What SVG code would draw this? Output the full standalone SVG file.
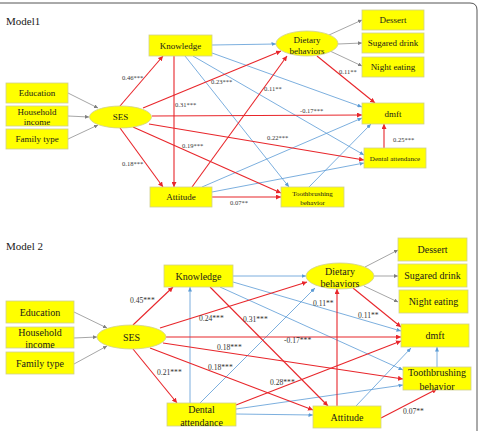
<svg xmlns="http://www.w3.org/2000/svg" width="482" height="431" viewBox="0 0 482 431">
<style>
.box{fill:#ffff00;stroke:#cfcf90;stroke-width:0.8}
.t{font-family:"Liberation Serif","Times New Roman",serif;fill:#1a1a1a;text-anchor:middle}
.s1{font-size:9px}.s2{font-size:10px}.s7{font-size:7px}
.lb{font-family:"Liberation Serif","Times New Roman",serif;fill:#333}
.l1{font-size:6.5px}.l2{font-size:7.6px}
.title{font-family:"Liberation Serif","Times New Roman",serif;fill:#1a1a1a;font-size:11px}
.r{stroke:#e8262b;stroke-width:1.1;fill:none;marker-end:url(#ar)}
.b{stroke:#5b9bd5;stroke-width:0.8;fill:none;marker-end:url(#ab)}
.g{stroke:#7f7f7f;stroke-width:0.7;fill:none;marker-end:url(#ag)}
</style>
<defs>
<marker id="ar" markerUnits="userSpaceOnUse" markerWidth="6" markerHeight="5" refX="5" refY="2.5" orient="auto"><path d="M0,0 L5,2.5 L0,5 Z" fill="#e8262b"/></marker>
<marker id="ab" markerUnits="userSpaceOnUse" markerWidth="5" markerHeight="4" refX="4.5" refY="2" orient="auto"><path d="M0,0 L4.5,2 L0,4 Z" fill="#5b9bd5"/></marker>
<marker id="ag" markerUnits="userSpaceOnUse" markerWidth="5" markerHeight="4" refX="4" refY="2" orient="auto"><path d="M0,0 L4,2 L0,4 Z" fill="#7f7f7f"/></marker>
</defs>
<rect width="482" height="431" fill="#ffffff"/>
<path d="M0,3 H470 Q477,3 477,10 V431" fill="none" stroke="#555" stroke-width="1"/>
<text class="title" x="6" y="25">Model1</text>
<text class="title" x="6" y="250">Model 2</text>

<g id="connectors">
<!-- Model 1 blue -->
<path class="b" d="M212,45 L276,44"/>
<path class="b" d="M212,53 L362,107"/>
<path class="b" d="M193,56 L364,155"/>
<path class="b" d="M185,56 L289,187"/>
<path class="b" d="M202,187 L362,118"/>
<path class="b" d="M212,192 L364,163"/>
<path class="b" d="M309,187 L371,124"/>
<!-- Model 1 red -->
<path class="r" d="M120,106 L163,56"/>
<path class="r" d="M143,108 L281,51"/>
<path class="r" d="M174,56 L174,187"/>
<path class="r" d="M152,116 L362,115"/>
<path class="r" d="M149,124 L364,160"/>
<path class="r" d="M133,127 L281,193"/>
<path class="r" d="M120,128 L163,187"/>
<path class="r" d="M192,187 L287,56"/>
<path class="r" d="M212,197 L281,197"/>
<path class="r" d="M317,56 L375,103"/>
<path class="r" d="M384,148 L384,124"/>
<!-- Model 1 gray -->
<path class="g" d="M68,93 L98,108"/>
<path class="g" d="M68,116 L89,117"/>
<path class="g" d="M68,139 L98,125"/>
<path class="g" d="M329,35 L362,20"/>
<path class="g" d="M338,44 L362,43"/>
<path class="g" d="M330,51 L362,66"/>
<!-- Model 2 blue -->
<path class="b" d="M190,403 L190,287"/>
<path class="b" d="M200,403 L315,288"/>
<path class="b" d="M236,414 L313,415"/>
<path class="b" d="M236,409 L403,385"/>
<path class="b" d="M233,276 L306,276"/>
<path class="b" d="M233,282 L401,331"/>
<path class="b" d="M220,287 L403,370"/>
<path class="b" d="M356,406 L411,348"/>
<path class="b" d="M437,367 L437,347"/>
<!-- Model 2 red -->
<path class="r" d="M133,325 L173,287"/>
<path class="r" d="M160,328 L307,282"/>
<path class="r" d="M166,337 L401,337"/>
<path class="r" d="M163,343 L403,379"/>
<path class="r" d="M150,348 L313,410"/>
<path class="r" d="M133,349 L177,403"/>
<path class="r" d="M210,287 L328,406"/>
<path class="r" d="M236,405 L401,341"/>
<path class="r" d="M337,406 L337,289"/>
<path class="r" d="M353,288 L401,327"/>
<path class="r" d="M381,418 L437,389"/>
<!-- Model 2 gray -->
<path class="g" d="M74,312 L107,328"/>
<path class="g" d="M74,338 L97,337"/>
<path class="g" d="M74,364 L107,346"/>
<path class="g" d="M365,267 L398,250"/>
<path class="g" d="M374,276 L398,276"/>
<path class="g" d="M364,286 L398,302"/>
</g>

<g id="labels">
<text class="lb l1" x="122" y="80">0.46***</text>
<text class="lb l1" x="211" y="84">0.23***</text>
<text class="lb l1" x="175" y="107">0.31***</text>
<text class="lb l1" x="182" y="148">0.19***</text>
<text class="lb l1" x="122" y="166">0.18***</text>
<text class="lb l1" x="230" y="205">0.07**</text>
<text class="lb l1" x="264" y="91">0.11**</text>
<text class="lb l1" x="339" y="74">0.11**</text>
<text class="lb l1" x="300" y="113">-0.17***</text>
<text class="lb l1" x="267" y="140">0.22***</text>
<text class="lb l1" x="393" y="142">0.25***</text>
<text class="lb l2" x="130" y="303">0.45***</text>
<text class="lb l2" x="199" y="321">0.24***</text>
<text class="lb l2" x="217" y="350">0.18***</text>
<text class="lb l2" x="208" y="370">0.18***</text>
<text class="lb l2" x="157" y="375">0.21***</text>
<text class="lb l2" x="243" y="322">0.31***</text>
<text class="lb l2" x="270" y="385">0.28***</text>
<text class="lb l2" x="284" y="343">-0.17***</text>
<text class="lb l2" x="313" y="306">0.11**</text>
<text class="lb l2" x="358" y="318">0.11**</text>
<text class="lb l2" x="403" y="414">0.07**</text>
</g>

<!-- Model 1 nodes -->
<g id="m1-education"><rect class="box" x="6" y="83" width="62" height="20"/><text class="t s1" x="37" y="96">Education</text></g>
<g id="m1-household"><rect class="box" x="6" y="106" width="62" height="20"/><text class="t s1" x="37" y="115">Household</text><text class="t s1" x="37" y="125">income</text></g>
<g id="m1-family"><rect class="box" x="6" y="129" width="62" height="20"/><text class="t s1" x="37" y="142">Family type</text></g>
<g id="m1-ses"><ellipse class="box" cx="120.5" cy="117" rx="31" ry="11"/><text class="t s1" x="120.5" y="120">SES</text></g>
<g id="m1-knowledge"><rect class="box" x="149" y="35" width="63" height="21"/><text class="t s1" x="180.5" y="48.5">Knowledge</text></g>
<g id="m1-attitude"><rect class="box" x="150" y="187" width="62" height="20"/><text class="t s1" x="181" y="200">Attitude</text></g>
<g id="m1-dietary"><ellipse class="box" cx="307" cy="43.5" rx="31" ry="12.5"/><text class="t s1" x="307" y="43">Dietary</text><text class="t s1" x="307" y="54">behaviors</text></g>
<g id="m1-dessert"><rect class="box" x="362" y="10" width="62" height="20"/><text class="t s1" x="393" y="23">Dessert</text></g>
<g id="m1-sugared"><rect class="box" x="362" y="33" width="62" height="20"/><text class="t s1" x="393" y="46">Sugared drink</text></g>
<g id="m1-night"><rect class="box" x="362" y="57" width="62" height="20"/><text class="t s1" x="393" y="70">Night eating</text></g>
<g id="m1-dmft"><rect class="box" x="362" y="103" width="62" height="21"/><text class="t s1" x="393" y="116.5">dmft</text></g>
<g id="m1-dental"><rect class="box" x="364" y="148" width="62" height="20"/><text class="t s7" x="395" y="160.5">Dental attendance</text></g>
<g id="m1-tooth"><rect class="box" x="281" y="187" width="63" height="20"/><text class="t s7" x="312.5" y="195.5">Toothbrushing</text><text class="t s7" x="312.5" y="204.5">behavior</text></g>

<!-- Model 2 nodes -->
<g id="m2-education"><rect class="box" x="6" y="301" width="68" height="22"/><text class="t s2" x="40" y="315.5">Education</text></g>
<g id="m2-household"><rect class="box" x="6" y="327" width="68" height="21"/><text class="t s2" x="40" y="335.5">Household</text><text class="t s2" x="40" y="347.5">income</text></g>
<g id="m2-family"><rect class="box" x="6" y="352" width="68" height="22"/><text class="t s2" x="40" y="366.5">Family type</text></g>
<g id="m2-ses"><ellipse class="box" cx="131.5" cy="337" rx="34.5" ry="12"/><text class="t s2" x="131.5" y="340.5">SES</text></g>
<g id="m2-knowledge"><rect class="box" x="164" y="265" width="69" height="22"/><text class="t s2" x="198.5" y="279.5">Knowledge</text></g>
<g id="m2-dental"><rect class="box" x="167" y="403" width="69" height="23"/><text class="t s2" x="201.5" y="412.5">Dental</text><text class="t s2" x="201.5" y="425.5">attendance</text></g>
<g id="m2-dietary"><ellipse class="box" cx="340" cy="276" rx="34" ry="13"/><text class="t s2" x="340" y="274.5">Dietary</text><text class="t s2" x="340" y="286.5">behaviors</text></g>
<g id="m2-dessert"><rect class="box" x="398" y="238" width="69" height="23"/><text class="t s2" x="432.5" y="253">Dessert</text></g>
<g id="m2-sugared"><rect class="box" x="398" y="264" width="69" height="23"/><text class="t s2" x="432.5" y="279">Sugared drink</text></g>
<g id="m2-night"><rect class="box" x="399" y="290" width="69" height="23"/><text class="t s2" x="433.5" y="305">Night eating</text></g>
<g id="m2-dmft"><rect class="box" x="401" y="324" width="68" height="23"/><text class="t s2" x="435" y="339">dmft</text></g>
<g id="m2-tooth"><rect class="box" x="403" y="367" width="68" height="23"/><text class="t s2" x="437" y="375.5">Toothbrushing</text><text class="t s2" x="437" y="389.5">behavior</text></g>
<g id="m2-attitude"><rect class="box" x="313" y="406" width="68" height="22"/><text class="t s2" x="347" y="420.5">Attitude</text></g>
</svg>
